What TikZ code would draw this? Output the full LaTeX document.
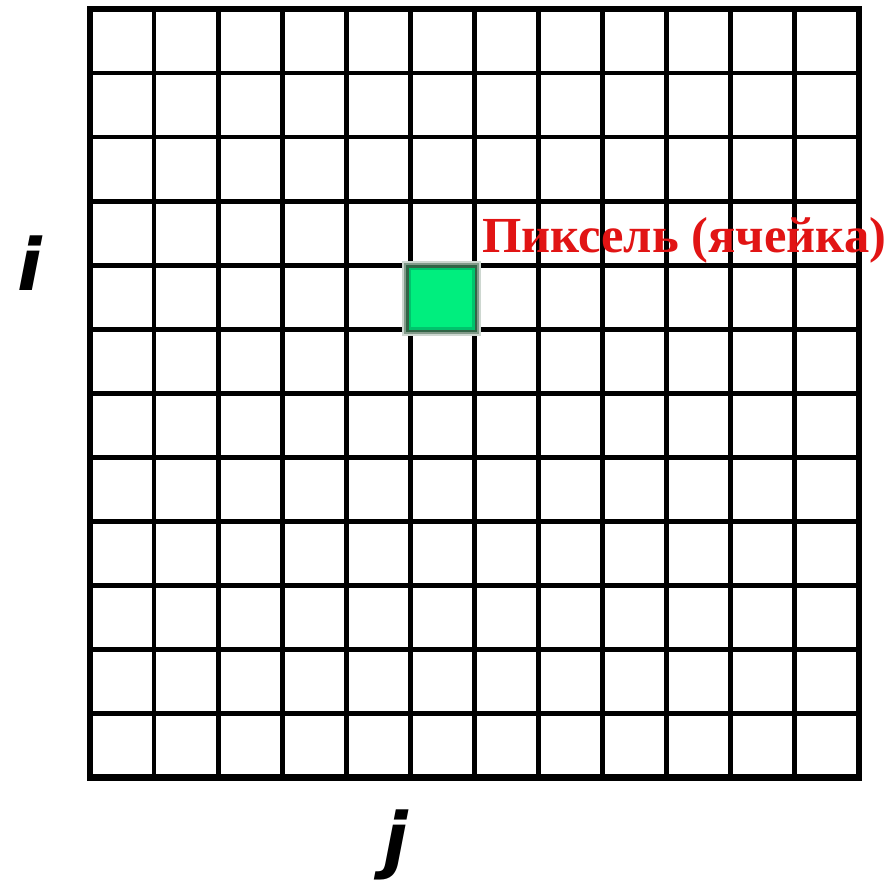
\documentclass[tikz,border=0pt]{standalone}
\usepackage{fontspec}
\newfontfamily\labfont{DejaVu Sans}
\newfontfamily\rufont{Liberation Serif}
\definecolor{pixred}{RGB}{225,20,20}
\definecolor{blurA}{RGB}{205,215,208}
\definecolor{blurB}{RGB}{130,155,138}
\definecolor{blurC}{RGB}{50,100,70}
\definecolor{greenA}{RGB}{0,195,108}
\definecolor{greenB}{RGB}{0,238,126}
\tikzset{
  gridline/.style={line width=4.8pt, line cap=rect},
  frameline/.style={line width=6.4pt, line join=miter},
  axislabel/.style={font=\labfont\bfseries\itshape\fontsize{72}{72}\selectfont, inner sep=0pt, anchor=base},
  pixlabel/.style={font=\rufont\bfseries\fontsize{50.5}{50.5}\selectfont, text=pixred, inner sep=0pt, anchor=base west}
}
\begin{document}
\begin{tikzpicture}[x=1pt,y=-1pt]
\useasboundingbox (0,0) rectangle (893,881);
\fill[white] (0,0) rectangle (893,881);
\foreach \k in {1,...,11} {
  \draw[gridline] ({90+\k*64.08},9) -- ({90+\k*64.08},777.5);
  \draw[gridline] (90,{9+\k*64.04}) -- (859,{9+\k*64.04});
}
\draw[frameline] (90,9) rectangle (859,777.5);
% green pixel with blurred edge
\fill[blurA] (402,261) rectangle (481,336);
\fill[blurB] (404,263) rectangle (479,334);
\fill[blurC] (406,265) rectangle (477,332);
\fill[greenA] (408.5,267.5) rectangle (474.5,329.5);
\fill[greenB] (411,270) rectangle (472,327);
% labels
\node[pixlabel] (pix) at (482,252) {Пиксель (ячейка)};
\node[axislabel] (ilab) at (30,290) {i};
\node[axislabel] (jlab) at (396,864) {j};
\end{tikzpicture}
\end{document}
